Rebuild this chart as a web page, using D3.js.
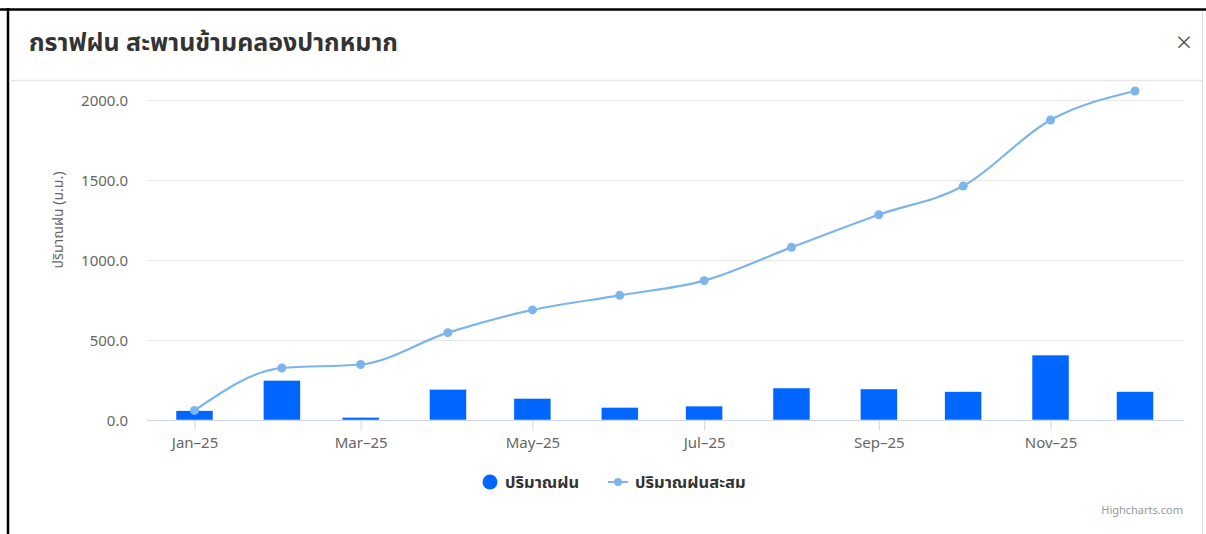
<!DOCTYPE html>
<html>
<head>
<meta charset="utf-8">
<script src="https://cdn.jsdelivr.net/npm/d3@7"></script>
<style>
  html, body { margin: 0; padding: 0; background: #fff; }
  svg { display: block; }
  text { font-family: "Noto Sans", "Noto Sans Thai", "DejaVu Sans", sans-serif; }
</style>
</head>
<body>
<svg id="chart" width="1206" height="534"></svg>
<script>
// ---- data ----
const title = "กราฟฝน สะพานข้ามคลองปากหมาก";
const months = ["2025-01-01","2025-02-01","2025-03-01","2025-04-01","2025-05-01","2025-06-01",
                "2025-07-01","2025-08-01","2025-09-01","2025-10-01","2025-11-01","2025-12-01"];
const rain = [58, 248, 17, 192, 135, 79, 87, 200, 194, 177, 406, 177];
const cumulative = [60, 325, 347, 546, 688, 779, 871, 1079, 1283, 1462, 1875, 2056];
const yTicks = [0, 500, 1000, 1500, 2000];
const xTickMonths = ["2025-01-01","2025-03-01","2025-05-01","2025-07-01","2025-09-01","2025-11-01"];
const seriesNames = ["ปริมาณฝน", "ปริมาณฝนสะสม"];
const yTitle = "ปริมาณฝน (ม.ม.)";

// ---- layout ----
const W = 1206, H = 534;
const plot = { left: 147, right: 1184, top: 100, bottom: 420 };
const barColor = "#0066ff", lineColor = "#7cb5ec";

const svg = d3.select("#chart");
const parse = d3.utcParse("%Y-%m-%d");
const dates = months.map(parse);

const x = d3.scaleUtc()
  .domain([dates[0], dates[dates.length - 1]])
  .range([plot.left + 47.5, plot.right - 49]);
const y = d3.scaleLinear().domain([0, 2000]).range([plot.bottom, plot.top]);

// frame
svg.append("rect").attr("x", 0).attr("y", 0).attr("width", W).attr("height", H).attr("fill", "#fff");
svg.append("line").attr("x1", 0).attr("x2", W).attr("y1", 9.5).attr("y2", 9.5)
  .attr("stroke", "#000").attr("stroke-width", 2.5);
svg.append("line").attr("x1", 8).attr("x2", 8).attr("y1", 8).attr("y2", H)
  .attr("stroke", "#000").attr("stroke-width", 2.5);
svg.append("line").attr("x1", 1202.5).attr("x2", 1202.5).attr("y1", 11).attr("y2", H)
  .attr("stroke", "#d9d9d9").attr("stroke-width", 1);
svg.append("line").attr("x1", 9).attr("x2", 1202).attr("y1", 80.5).attr("y2", 80.5)
  .attr("stroke", "#e8e8e8").attr("stroke-width", 1.5);

// header
svg.append("text").attr("x", 29).attr("y", 51)
  .attr("font-size", 25).attr("font-weight", "bold").attr("fill", "#333")
  .text(title);
svg.append("text").attr("x", 1184).attr("y", 52).attr("text-anchor", "middle")
  .attr("font-size", 28).attr("font-weight", 300).attr("fill", "#555").attr("font-family", "DejaVu Sans")
  .text("×");

// gridlines
svg.append("g").selectAll("line").data(yTicks).join("line")
  .attr("x1", plot.left).attr("x2", plot.right)
  .attr("y1", d => Math.round(y(d)) + 0.5).attr("y2", d => Math.round(y(d)) + 0.5)
  .attr("stroke", "#e6e6e6").attr("stroke-width", 1);

// y axis labels
const yAxis = d3.axisLeft(y).tickValues(yTicks).tickFormat(d3.format(".1f")).tickSize(0).tickPadding(19);
const gy = svg.append("g").attr("transform", `translate(${plot.left},0)`).call(yAxis);
gy.select(".domain").remove();
gy.selectAll("text").attr("font-size", 15).attr("fill", "#666")
  .attr("font-family", "Noto Sans, sans-serif").attr("dy", "0.35em");

// y title
svg.append("text")
  .attr("transform", "translate(63,220) rotate(-90)")
  .attr("text-anchor", "middle").attr("font-size", 14).attr("fill", "#666")
  .text(yTitle);

// bars
const barW = 37;
svg.append("g").selectAll("rect").data(rain).join("rect")
  .attr("x", (d, i) => x(dates[i]) - barW / 2)
  .attr("y", d => y(d))
  .attr("width", barW)
  .attr("height", d => y(0) - y(d))
  .attr("fill", barColor)
  .attr("stroke", "#ffffff").attr("stroke-width", 0.5);

// x axis
const xAxis = d3.axisBottom(x).tickValues(xTickMonths.map(parse))
  .tickFormat(d3.utcFormat("%b-%y")).tickSize(10).tickPadding(7).tickSizeOuter(0);
const gx = svg.append("g").attr("transform", `translate(0,${plot.bottom + 0.5})`).call(xAxis);
gx.select(".domain").attr("d", `M${plot.left},0H${plot.right}`).attr("stroke", "#ccd6eb");
gx.selectAll(".tick line").attr("stroke", "#ccd6eb");
gx.selectAll("text").attr("font-size", 15).attr("fill", "#666")
  .attr("font-family", "Noto Sans, sans-serif")
  .text(function(d) { return d3.utcFormat("%b")(d) + "\u2013" + d3.utcFormat("%y")(d); });

// cumulative line
const line = d3.line()
  .x((d, i) => x(dates[i]))
  .y(d => y(d))
  .curve(d3.curveMonotoneX);
svg.append("path").datum(cumulative)
  .attr("d", line).attr("fill", "none")
  .attr("stroke", lineColor).attr("stroke-width", 2.2);
svg.append("g").selectAll("circle").data(cumulative).join("circle")
  .attr("cx", (d, i) => x(dates[i])).attr("cy", d => y(d)).attr("r", 4.5)
  .attr("fill", lineColor);

// legend
const lg = svg.append("g").attr("transform", "translate(0,482)");
lg.append("circle").attr("cx", 490).attr("cy", 0).attr("r", 7.5).attr("fill", barColor);
lg.append("text").attr("x", 505).attr("y", 0).attr("dy", "0.35em")
  .attr("font-size", 16.5).attr("font-weight", "bold").attr("fill", "#333").text(seriesNames[0]);
lg.append("line").attr("x1", 608).attr("x2", 628).attr("y1", 0).attr("y2", 0)
  .attr("stroke", lineColor).attr("stroke-width", 2);
lg.append("circle").attr("cx", 618).attr("cy", 0).attr("r", 4).attr("fill", lineColor);
lg.append("text").attr("x", 635).attr("y", 0).attr("dy", "0.35em")
  .attr("font-size", 16.5).attr("font-weight", "bold").attr("fill", "#333").text(seriesNames[1]);

// credits
svg.append("text").attr("x", 1183).attr("y", 514).attr("text-anchor", "end")
  .attr("font-size", 11).attr("fill", "#999").attr("font-family", "Noto Sans, sans-serif")
  .text("Highcharts.com");
</script>
</body>
</html>
